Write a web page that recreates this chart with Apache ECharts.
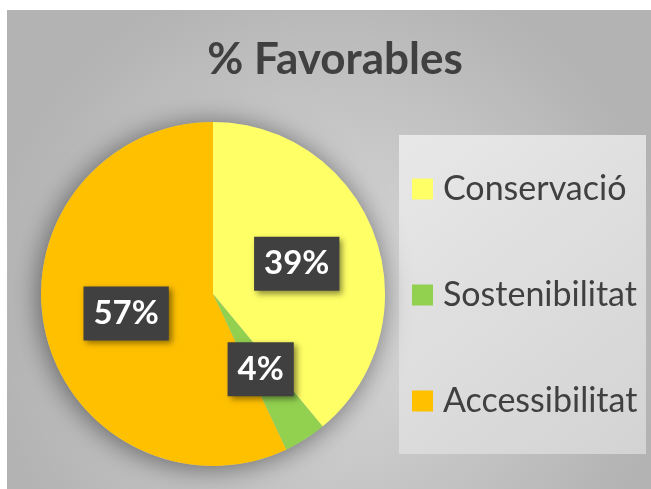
<!DOCTYPE html>
<html>
<head>
<meta charset="utf-8">
<script src="https://cdn.jsdelivr.net/npm/echarts@6/dist/echarts.min.js"></script>
<style>
html,body{margin:0;padding:0;background:#fff;}
#c{width:651px;height:489px;}
</style>
</head>
<body>
<div id="c"></div>
<script>
var titleText = '% Favorables';
var categories = ['Conservació', 'Sostenibilitat', 'Accessibilitat'];
var values = [39, 4, 57];
var colors = ['#FFFF66', '#92D050', '#FFC000'];

var chart = echarts.init(document.getElementById('c'));
var data = categories.map(function (n, i) {
  return { name: n, value: values[i], itemStyle: { color: colors[i] } };
});
chart.setOption({
  animation: false,
  graphic: [
    {
      type: 'rect', z: -10, silent: true,
      shape: { x: 7, y: 10, width: 644, height: 479 },
      style: {
        fill: {
          type: 'radial', x: 0.5, y: 0.62, r: 0.72,
          colorStops: [{ offset: 0, color: '#dbdbdb' }, { offset: 1, color: '#b3b3b3' }]
        }
      }
    },
    {
      type: 'rect', z: -9, silent: true,
      shape: { x: 399, y: 135, width: 247, height: 319 },
      style: {
        fill: {
          type: 'linear', x: 0, y: 0, x2: 1, y2: 1,
          colorStops: [{ offset: 0, color: '#e8e8e8' }, { offset: 1, color: '#d3d3d3' }]
        }
      }
    }
  ],
  title: {
    text: titleText,
    left: 335, top: 38, textAlign: 'center', padding: 0,
    textStyle: { fontFamily: 'Lato', fontWeight: 'bold', fontSize: 44, color: '#404040' }
  },
  legend: {
    orient: 'vertical',
    left: 412, top: 172, padding: 0,
    itemWidth: 21, itemHeight: 21, itemGap: 72,
    icon: 'rect',
    textStyle: { fontFamily: 'Lato', fontSize: 34, color: '#404040', lineHeight: 34, padding: [0, 0, 0, 5] },
    data: categories
  },
  series: [
    {
      type: 'pie', silent: true, z: 1,
      center: [213, 294], radius: 172,
      label: { show: false }, labelLine: { show: false },
      data: [{ value: 1, name: '_shadow', itemStyle: { color: '#c0c0c0', shadowBlur: 28, shadowOffsetX: -2, shadowOffsetY: 2, shadowColor: 'rgba(0,0,0,0.5)' } }],
      legendHoverLink: false
    },
    {
      type: 'pie', z: 2,
      center: [213, 294], radius: 172,
      startAngle: 90, clockwise: true,
      data: data,
      itemStyle: { borderWidth: 0 },
      label: {
        show: true, position: 'inside',
        formatter: function (p) { return p.value + '%'; },
        fontFamily: 'Lato', fontWeight: 'bold', fontSize: 33, color: '#ffffff',
        backgroundColor: '#404040',
        padding: [11, 10, 11, 10],
        lineHeight: 32,
        shadowColor: 'rgba(0,0,0,0.45)', shadowBlur: 6, shadowOffsetX: 3, shadowOffsetY: 3
      },
      labelLine: { show: false }
    }
  ]
});
</script>
</body>
</html>
